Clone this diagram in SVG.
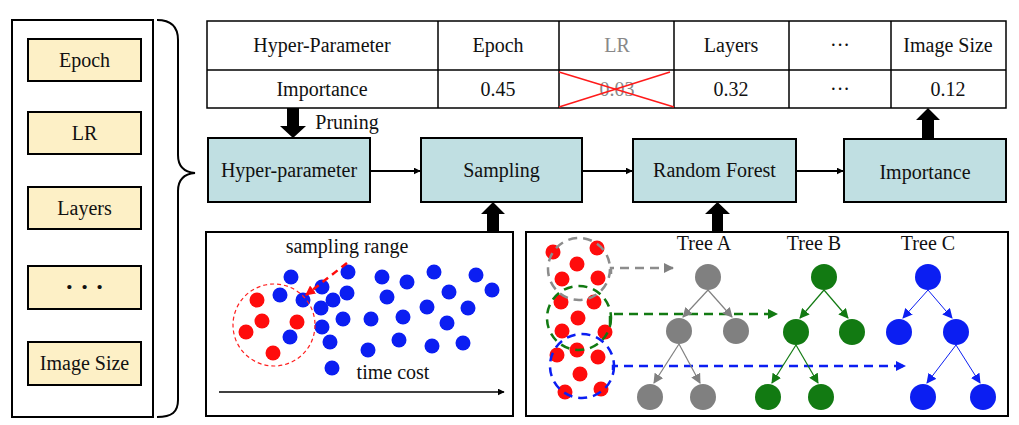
<svg xmlns="http://www.w3.org/2000/svg" width="1019" height="425" viewBox="0 0 1019 425">
<style>
text{font-family:"Liberation Serif","Times New Roman",serif;font-size:20px;fill:#111;text-anchor:middle;dominant-baseline:central}
.ybox{fill:#FDF0C6;stroke:#000;stroke-width:2}
.bbox{fill:#C0DFE2;stroke:#000;stroke-width:2}
.frame{fill:#fff;stroke:#000;stroke-width:2}
.tl{stroke:#000;stroke-width:1.5;fill:none}
.bd{fill:#0B1EF2}
.rd{fill:#FF0C0C}
.gd{fill:#808080}
.gr{fill:#127A12}
</style>
<defs>
<marker id="ah" viewBox="0 0 10 10" refX="9" refY="5" markerWidth="7" markerHeight="7" orient="auto" markerUnits="userSpaceOnUse"><path d="M0,0L10,5L0,10z" fill="#000"/></marker>
<marker id="ahr" viewBox="0 0 10 10" refX="9" refY="5" markerWidth="10" markerHeight="10" orient="auto" markerUnits="userSpaceOnUse"><path d="M0,0L10,5L0,10z" fill="#FF0C0C"/></marker>
<marker id="ahg" viewBox="0 0 10 10" refX="9" refY="5" markerWidth="10" markerHeight="10" orient="auto" markerUnits="userSpaceOnUse"><path d="M0,0L10,5L0,10z" fill="#808080"/></marker>
<marker id="ahgr" viewBox="0 0 10 10" refX="9" refY="5" markerWidth="10" markerHeight="10" orient="auto" markerUnits="userSpaceOnUse"><path d="M0,0L10,5L0,10z" fill="#127A12"/></marker>
<marker id="ahb" viewBox="0 0 10 10" refX="9" refY="5" markerWidth="10" markerHeight="10" orient="auto" markerUnits="userSpaceOnUse"><path d="M0,0L10,5L0,10z" fill="#0B1EF2"/></marker>
</defs>

<!-- left panel -->
<g id="param-list">
<rect class="frame" x="12" y="20" width="141" height="397"/>
<g id="p-epoch"><rect class="ybox" x="28" y="39" width="113" height="42"/><text x="84.5" y="60">Epoch</text></g>
<g id="p-lr"><rect class="ybox" x="28" y="112" width="113" height="42"/><text x="84.5" y="133">LR</text></g>
<g id="p-layers"><rect class="ybox" x="28" y="187" width="113" height="42"/><text x="84.5" y="208">Layers</text></g>
<g id="p-dots"><rect class="ybox" x="28" y="266" width="113" height="43"/><text x="84.5" y="286" style="font-size:26px;font-weight:bold">· · ·</text></g>
<g id="p-imgsize"><rect class="ybox" x="28" y="342" width="113" height="43"/><text x="84.5" y="363">Image Size</text></g>
</g>
<path id="brace" d="M157,20 C172,20 178,28 178,40 L178,155 C178,166 183,172 195,173 C183,174 178,180 178,191 L178,400 C178,412 172,417 157,417" fill="none" stroke="#000" stroke-width="2"/>

<!-- table -->
<g id="table">
<rect x="207" y="21" width="799" height="87" fill="#fff" stroke="#000" stroke-width="1.5"/>
<line class="tl" x1="207" y1="70" x2="1006" y2="70"/>
<line class="tl" x1="438" y1="21" x2="438" y2="108"/>
<line class="tl" x1="559" y1="21" x2="559" y2="108"/>
<line class="tl" x1="674" y1="21" x2="674" y2="108"/>
<line class="tl" x1="789" y1="21" x2="789" y2="108"/>
<line class="tl" x1="891" y1="21" x2="891" y2="108"/>
<text x="322" y="45">Hyper-Parameter</text>
<text x="498" y="45">Epoch</text>
<text x="617" y="45" style="fill:#888">LR</text>
<text x="731" y="45">Layers</text>
<text x="840" y="45">···</text>
<text x="948" y="45">Image Size</text>
<text x="322" y="89">Importance</text>
<text x="498" y="89">0.45</text>
<text x="617" y="89" style="fill:#888">0.03</text>
<text x="731" y="89">0.32</text>
<text x="840" y="89">···</text>
<text x="948" y="89">0.12</text>
<line x1="559" y1="72" x2="674" y2="107" stroke="#FF1A1A" stroke-width="1.5"/>
<line x1="559" y1="107" x2="670" y2="72" stroke="#FF1A1A" stroke-width="1.5"/>
</g>

<!-- process boxes -->
<g id="n-hyper"><rect class="bbox" x="208" y="138" width="162" height="64"/><text x="289" y="170">Hyper-parameter</text></g>
<g id="n-sampling"><rect class="bbox" x="421" y="138" width="161" height="64"/><text x="501.5" y="170">Sampling</text></g>
<g id="n-rf"><rect class="bbox" x="633" y="139" width="163" height="63"/><text x="714.5" y="170">Random Forest</text></g>
<g id="n-importance"><rect class="bbox" x="844" y="139" width="162" height="63"/><text x="925" y="172">Importance</text></g>

<!-- connectors -->
<g id="connectors">
<line x1="370" y1="171" x2="420" y2="171" stroke="#000" stroke-width="2" marker-end="url(#ah)"/>
<line x1="582" y1="171" x2="632" y2="171" stroke="#000" stroke-width="2" marker-end="url(#ah)"/>
<line x1="796" y1="171" x2="843" y2="171" stroke="#000" stroke-width="2" marker-end="url(#ah)"/>
<polygon points="287,108 299,108 299,126 306,126 293,138 280,126 287,126" fill="#000"/>
<polygon points="487,232 499,232 499,214 505,214 493,202 481,214 487,214" fill="#000"/>
<polygon points="712,232 723,232 723,214 730,214 717.5,202 705,214 712,214" fill="#000"/>
<polygon points="922,139 934,139 934,120 940,120 928,108 916,120 922,120" fill="#000"/>
<text x="347" y="122">Pruning</text>
</g>

<!-- bottom-left panel -->
<g id="sampling-panel">
<rect class="frame" x="206" y="232" width="307" height="184"/>
<text x="347" y="246">sampling range</text>
<g class="bd">
<circle class="bd" cx="291" cy="277" r="7.5"/><circle class="bd" cx="348" cy="272" r="7.5"/><circle class="bd" cx="382" cy="277" r="7.5"/>
<circle class="bd" cx="407" cy="282" r="7.5"/><circle class="bd" cx="434" cy="272" r="7.5"/><circle class="bd" cx="476" cy="275" r="7.5"/>
<circle class="bd" cx="322" cy="287" r="7.5"/><circle class="bd" cx="280" cy="295" r="7.5"/><circle class="bd" cx="303" cy="300" r="7.5"/>
<circle class="bd" cx="333" cy="300" r="7.5"/><circle class="bd" cx="347" cy="293" r="7.5"/><circle class="bd" cx="387" cy="297" r="7.5"/>
<circle class="bd" cx="449" cy="292" r="7.5"/><circle class="bd" cx="492" cy="290" r="7.5"/><circle class="bd" cx="321" cy="308" r="7.5"/>
<circle class="bd" cx="427" cy="307" r="7.5"/><circle class="bd" cx="468" cy="308" r="7.5"/><circle class="bd" cx="343" cy="319" r="7.5"/>
<circle class="bd" cx="371" cy="319" r="7.5"/><circle class="bd" cx="403" cy="317" r="7.5"/><circle class="bd" cx="447" cy="323" r="7.5"/>
<circle class="bd" cx="322" cy="327" r="7.5"/><circle class="bd" cx="290" cy="337" r="7.5"/><circle class="bd" cx="330" cy="342" r="7.5"/>
<circle class="bd" cx="368" cy="350" r="7.5"/><circle class="bd" cx="399" cy="340" r="7.5"/><circle class="bd" cx="432" cy="346" r="7.5"/>
<circle class="bd" cx="463" cy="343" r="7.5"/><circle class="bd" cx="332" cy="368" r="7.5"/>
</g>
<circle class="rd" cx="257" cy="300" r="7.5"/><circle class="rd" cx="262" cy="321" r="7.5"/><circle class="rd" cx="297" cy="322" r="7.5"/>
<circle class="rd" cx="246" cy="332" r="7.5"/><circle class="rd" cx="273" cy="353" r="7.5"/>
<circle cx="274" cy="325" r="41" fill="none" stroke="#FF2020" stroke-width="1.2" stroke-dasharray="4,3"/>
<line x1="347" y1="263" x2="306" y2="295" stroke="#FF0C0C" stroke-width="2.5" stroke-dasharray="7,5" marker-end="url(#ahr)"/>
<text x="393" y="372">time cost</text>
<line x1="219" y1="392" x2="504" y2="392" stroke="#000" stroke-width="1.5" marker-end="url(#ah)"/>
</g>

<!-- bottom-right panel -->
<g id="forest-panel">
<rect class="frame" x="526" y="232" width="482" height="184"/>
<g>
<circle class="rd" cx="553" cy="252" r="7.5"/><circle class="rd" cx="597" cy="248" r="7.5"/><circle class="rd" cx="577" cy="264" r="7.5"/>
<circle class="rd" cx="562" cy="279" r="7.5"/><circle class="rd" cx="598" cy="278" r="7.5"/><circle class="rd" cx="561" cy="302" r="7.5"/>
<circle class="rd" cx="594" cy="302" r="7.5"/><circle class="rd" cx="578" cy="318" r="7.5"/><circle class="rd" cx="562" cy="331" r="7.5"/>
<circle class="rd" cx="605" cy="332" r="7.5"/><circle class="rd" cx="577" cy="350" r="7.5"/><circle class="rd" cx="557" cy="355" r="7.5"/>
<circle class="rd" cx="598" cy="357" r="7.5"/><circle class="rd" cx="580" cy="374" r="7.5"/><circle class="rd" cx="565" cy="392" r="7.5"/>
<circle class="rd" cx="601" cy="389" r="7.5"/>
</g>
<circle cx="579" cy="269" r="31" fill="none" stroke="#8C8C8C" stroke-width="2.5" stroke-dasharray="9,6"/>
<circle cx="579" cy="318" r="32" fill="none" stroke="#127A12" stroke-width="2.5" stroke-dasharray="9,6"/>
<circle cx="582" cy="366" r="32" fill="none" stroke="#0B1EF2" stroke-width="2.5" stroke-dasharray="9,6"/>
<path d="M611,274 L611,268 L673,268" fill="none" stroke="#8C8C8C" stroke-width="2.5" stroke-dasharray="9,6" marker-end="url(#ahg)"/>
<path d="M610,325 L610,314 L777,314" fill="none" stroke="#127A12" stroke-width="2.5" stroke-dasharray="9,6" marker-end="url(#ahgr)"/>
<path d="M613,370 L613,366 L905,366" fill="none" stroke="#0B1EF2" stroke-width="2.5" stroke-dasharray="9,6" marker-end="url(#ahb)"/>

<text x="704" y="243">Tree A</text>
<text x="814" y="243">Tree B</text>
<text x="928" y="243">Tree C</text>

<g id="tree-a">
<line x1="708" y1="290" x2="683" y2="317" stroke="#808080" stroke-width="1.2" marker-end="url(#ahg)"/>
<line x1="708" y1="290" x2="732" y2="317" stroke="#808080" stroke-width="1.2" marker-end="url(#ahg)"/>
<line x1="679" y1="344" x2="654" y2="383" stroke="#808080" stroke-width="1.2" marker-end="url(#ahg)"/>
<line x1="679" y1="344" x2="700" y2="383" stroke="#808080" stroke-width="1.2" marker-end="url(#ahg)"/>
<circle class="gd" cx="708" cy="277" r="13"/><circle class="gd" cx="679" cy="331" r="13"/><circle class="gd" cx="736" cy="331" r="13"/>
<circle class="gd" cx="650" cy="397" r="13"/><circle class="gd" cx="703" cy="397" r="13"/>
</g>
<g id="tree-b">
<line x1="824" y1="290" x2="800" y2="318" stroke="#127A12" stroke-width="1.2" marker-end="url(#ahgr)"/>
<line x1="824" y1="290" x2="848" y2="318" stroke="#127A12" stroke-width="1.2" marker-end="url(#ahgr)"/>
<line x1="796" y1="345" x2="772" y2="383" stroke="#127A12" stroke-width="1.2" marker-end="url(#ahgr)"/>
<line x1="796" y1="345" x2="818" y2="383" stroke="#127A12" stroke-width="1.2" marker-end="url(#ahgr)"/>
<circle class="gr" cx="824" cy="277" r="13"/><circle class="gr" cx="796" cy="332" r="13"/><circle class="gr" cx="852" cy="332" r="13"/>
<circle class="gr" cx="768" cy="397" r="13"/><circle class="gr" cx="821" cy="397" r="13"/>
</g>
<g id="tree-c">
<line x1="928" y1="290" x2="903" y2="318" stroke="#0B1EF2" stroke-width="1" marker-end="url(#ahb)"/>
<line x1="928" y1="290" x2="952" y2="318" stroke="#0B1EF2" stroke-width="1" marker-end="url(#ahb)"/>
<line x1="956" y1="345" x2="927" y2="383" stroke="#0B1EF2" stroke-width="1" marker-end="url(#ahb)"/>
<line x1="956" y1="345" x2="980" y2="383" stroke="#0B1EF2" stroke-width="1" marker-end="url(#ahb)"/>
<circle class="bd" cx="928" cy="277" r="13"/><circle class="bd" cx="899" cy="332" r="13"/><circle class="bd" cx="956" cy="332" r="13"/>
<circle class="bd" cx="923" cy="397" r="13"/><circle class="bd" cx="983" cy="397" r="13"/>
</g>
</g>
</svg>
